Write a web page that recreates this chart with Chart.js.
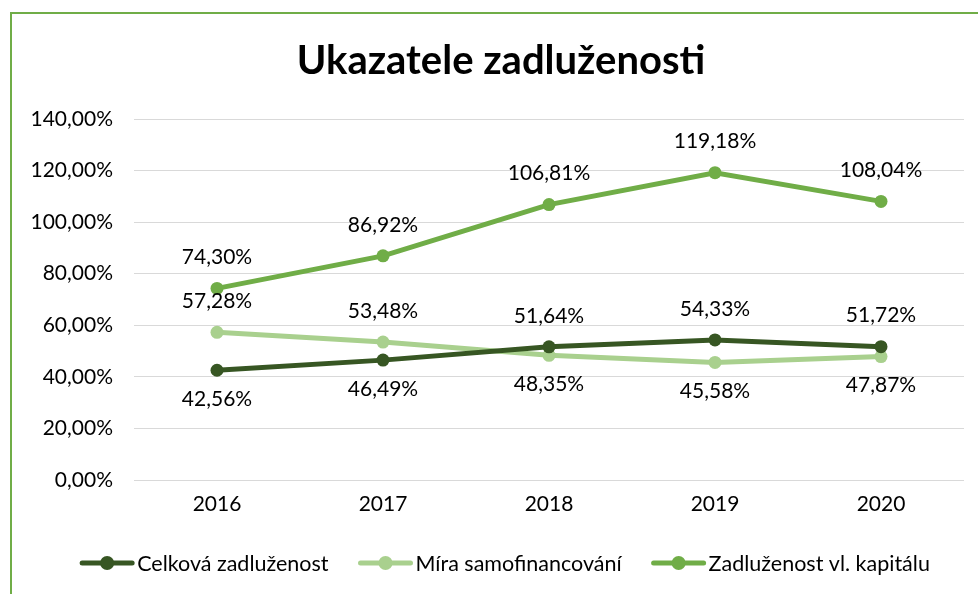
<!DOCTYPE html>
<html>
<head>
<meta charset="utf-8">
<script src="https://cdn.jsdelivr.net/npm/chart.js@4"></script>
<style>
  html, body { margin: 0; padding: 0; background: #fff; overflow: hidden; }
  #wrap { position: relative; width: 978px; height: 594px; }
  #frame { position: absolute; left: 10px; top: 12px; width: 2000px; height: 2000px;
           border-left: 2px solid #70AD47; border-top: 2px solid #70AD47; pointer-events: none; }
</style>
</head>
<body>
<div id="wrap">
  <canvas id="chart" width="978" height="594"></canvas>
  <div id="frame"></div>
</div>
<script>
  'use strict';

  var years = ['2016', '2017', '2018', '2019', '2020'];
  var celkovaZadluzenost = [42.56, 46.49, 51.64, 54.33, 51.72];
  var miraSamofinancovani = [57.28, 53.48, 48.35, 45.58, 47.87];
  var zadluzenostVlKapitalu = [74.30, 86.92, 106.81, 119.18, 108.04];
  var yTicks = [0, 20, 40, 60, 80, 100, 120, 140];

  var fontFamily = 'Lato, "Noto Sans", sans-serif';

  function fmtPct(v) {
    return v.toFixed(2).replace('.', ',') + '%';
  }

  // label above the point unless the other low series sits higher at this year
  function labelAbove(dsIndex, i) {
    if (dsIndex === 2) return true;
    if (dsIndex === 0) return celkovaZadluzenost[i] > miraSamofinancovani[i];
    return miraSamofinancovani[i] > celkovaZadluzenost[i];
  }

  // y tick labels reach into the left padding, widen the label clip box
  var unclipY = {
    id: 'unclipY',
    beforeDraw: function (chart) {
      chart.scales.y.left = 0;
    }
  };

  var pointLabels = {
    id: 'pointLabels',
    afterDatasetsDraw: function (chart) {
      var ctx = chart.ctx;
      ctx.save();
      ctx.font = '21px ' + fontFamily;
      ctx.fillStyle = '#000';
      ctx.textAlign = 'center';
      ctx.textBaseline = 'middle';
      chart.data.datasets.forEach(function (ds, di) {
        var meta = chart.getDatasetMeta(di);
        meta.data.forEach(function (pt, i) {
          var dy = labelAbove(di, i) ? -31 : 29;
          ctx.fillText(fmtPct(ds.data[i]), pt.x, pt.y + dy);
        });
      });
      ctx.restore();
    }
  };

  var lineLegend = {
    id: 'lineLegend',
    afterDraw: function (chart) {
      var ctx = chart.ctx;
      ctx.save();
      ctx.font = '21.5px ' + fontFamily;
      ctx.textBaseline = 'middle';
      var markW = 54, gap = 3, itemGap = 30;
      var items = chart.data.datasets.map(function (ds) {
        return { ds: ds, w: markW + gap + ctx.measureText(ds.label).width };
      });
      var total = items.reduce(function (s, it) { return s + it.w; }, 0) + itemGap * (items.length - 1);
      var x = 505 - total / 2;
      var y = 563;
      items.forEach(function (it) {
        ctx.strokeStyle = it.ds.borderColor;
        ctx.lineWidth = 5;
        ctx.lineCap = 'round';
        ctx.beginPath();
        ctx.moveTo(x + 2, y);
        ctx.lineTo(x + markW - 2, y);
        ctx.stroke();
        ctx.fillStyle = it.ds.borderColor;
        ctx.beginPath();
        ctx.arc(x + markW / 2, y, 7, 0, Math.PI * 2);
        ctx.fill();
        ctx.fillStyle = '#000';
        ctx.textAlign = 'left';
        ctx.fillText(it.ds.label, x + markW + gap, y + 1);
        x += it.w + itemGap;
      });
      ctx.restore();
    }
  };

  function series(label, data, color) {
    return {
      label: label,
      data: data,
      borderColor: color,
      backgroundColor: color,
      borderWidth: 5,
      pointRadius: 6.5,
      pointHoverRadius: 6.5,
      pointBackgroundColor: color,
      pointBorderWidth: 0,
      tension: 0,
      fill: false
    };
  }

  var chartElement = document.getElementById('chart').getContext('2d');
  var chartObject = new Chart(chartElement, {
    type: 'line',
    data: {
      labels: years,
      datasets: [
        series('Celková zadluženost', celkovaZadluzenost, '#375623'),
        series('Míra samofinancování', miraSamofinancovani, '#A9D08E'),
        series('Zadluženost vl. kapitálu', zadluzenostVlKapitalu, '#70AD47')
      ]
    },
    options: {
      responsive: false,
      animation: false,
      layout: { padding: { left: 38, right: 14, top: 0, bottom: 0 } },
      plugins: {
        legend: { display: false },
        tooltip: { enabled: false },
        title: {
          display: true,
          text: 'Ukazatele zadluženosti',
          color: '#000',
          font: { family: fontFamily, size: 40, weight: 'bold' },
          padding: { top: 37, bottom: 34 }
        }
      },
      scales: {
        x: {
          offset: true,
          grid: { display: false, drawTicks: false },
          border: { display: false },
          ticks: { color: '#000', font: { family: fontFamily, size: 21 }, padding: 12 },
          afterFit: function (scale) { scale.height = 114; }
        },
        y: {
          min: 0,
          max: 140,
          afterBuildTicks: function (scale) {
            scale.ticks = yTicks.map(function (v) { return { value: v }; });
          },
          grid: { color: '#D9D9D9', lineWidth: 1, drawTicks: false },
          border: { display: false },
          ticks: {
            color: '#000',
            font: { family: fontFamily, size: 21 },
            padding: 21,
            callback: function (v) { return fmtPct(v); }
          },
          afterFit: function (scale) { scale.width = 96; }
        }
      }
    },
    plugins: [unclipY, pointLabels, lineLegend]
  });
</script>
</body>
</html>
